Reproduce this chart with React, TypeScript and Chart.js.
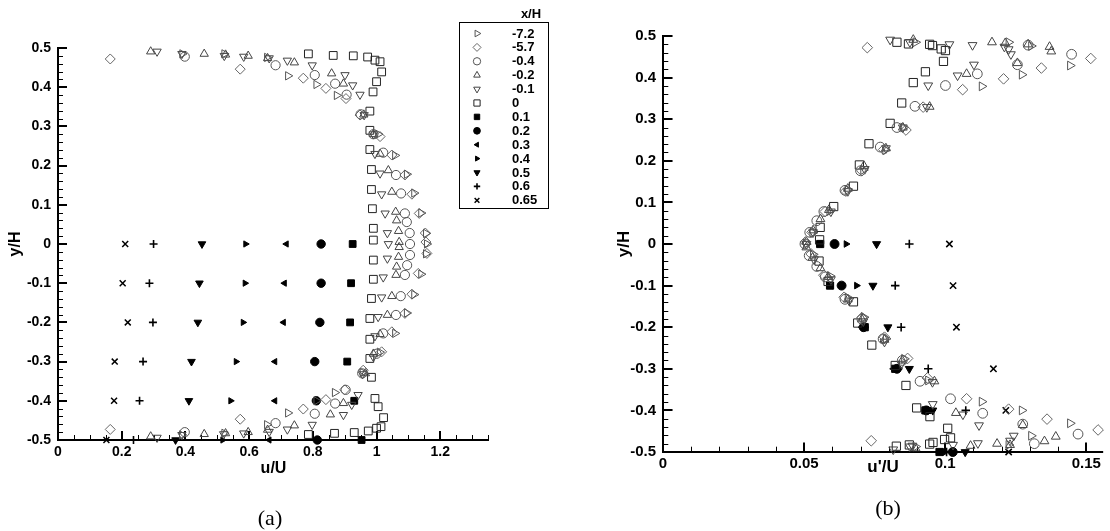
import React, { useEffect, useRef } from 'react';
import { Chart, registerables } from 'chart.js';
import { drawPoint } from 'chart.js/helpers';

Chart.register(...registerables);

// ---------------- tick labels ----------------
const Y_TICKS = [-0.5, -0.4, -0.3, -0.2, -0.1, 0, 0.1, 0.2, 0.3, 0.4, 0.5];
const Y_TICK_LABELS = ['-0.5', '-0.4', '-0.3', '-0.2', '-0.1', '0', '0.1', '0.2', '0.3', '0.4', '0.5'];
const XA_TICKS = [0, 0.2, 0.4, 0.6, 0.8, 1, 1.2];
const XA_TICK_LABELS = ['0', '0.2', '0.4', '0.6', '0.8', '1', '1.2'];
const XB_TICKS = [0, 0.05, 0.1, 0.15];
const XB_TICK_LABELS = ['0', '0.05', '0.1', '0.15'];

// ---------------- series labels (x/H) ----------------
const SERIES_LABELS = ['-7.2', '-5.7', '-0.4', '-0.2', '-0.1', '0', '0.1', '0.2', '0.3', '0.4', '0.5', '0.6', '0.65'];

// x/H = -7.2
const Y_M72 = [0.485, 0.485, 0.476, 0.429, 0.407, 0.379, 0.28, 0.226, 0.178, 0.13, 0.079, 0.027, 0, -0.025, -0.077, -0.129, -0.176, -0.228, -0.276, -0.328, -0.379, -0.4, -0.431, -0.461, -0.483, -0.487];
const U_M72 = [0.39, 0.522, 0.656, 0.722, 0.811, 0.875, 1.005, 1.058, 1.095, 1.118, 1.14, 1.155, 1.158, 1.155, 1.14, 1.118, 1.095, 1.058, 1.01, 0.956, 0.869, 0.811, 0.722, 0.656, 0.522, 0.389];
const UP_M72 = [0.0895, 0.1225, 0.1305, 0.1443, 0.1272, 0.113, 0.0852, 0.0788, 0.071, 0.0655, 0.059, 0.053, 0.0507, 0.0532, 0.0592, 0.0655, 0.0712, 0.079, 0.0855, 0.094, 0.113, 0.1272, 0.1443, 0.1305, 0.1225, 0.0895];

// x/H = -5.7
const Y_M57 = [0.472, 0.446, 0.423, 0.397, 0.371, 0.329, 0.274, 0.227, 0.176, 0.127, 0.078, 0.028, 0.005, -0.024, -0.075, -0.128, -0.177, -0.224, -0.275, -0.322, -0.372, -0.397, -0.421, -0.447, -0.473];
const U_M57 = [0.164, 0.572, 0.77, 0.841, 0.904, 0.948, 1.011, 1.048, 1.089, 1.111, 1.134, 1.153, 1.155, 1.158, 1.131, 1.111, 1.089, 1.048, 1.016, 0.958, 0.9, 0.841, 0.77, 0.572, 0.164];
const UP_M57 = [0.0724, 0.1516, 0.1341, 0.1207, 0.1062, 0.0922, 0.0861, 0.0782, 0.0705, 0.0648, 0.0575, 0.0528, 0.0505, 0.0525, 0.057, 0.0642, 0.0705, 0.0785, 0.0867, 0.0937, 0.1076, 0.1225, 0.1361, 0.1542, 0.0738];

// x/H = -0.4
const Y_M04 = [0.478, 0.456, 0.431, 0.409, 0.381, 0.331, 0.28, 0.233, 0.176, 0.129, 0.078, 0.056, 0.028, 0, -0.028, -0.054, -0.079, -0.133, -0.181, -0.228, -0.28, -0.33, -0.372, -0.407, -0.433, -0.457, -0.48];
const U_M04 = [0.398, 0.683, 0.806, 0.87, 0.906, 0.95, 0.99, 1.021, 1.061, 1.077, 1.089, 1.095, 1.104, 1.105, 1.105, 1.096, 1.089, 1.076, 1.061, 1.021, 1.0, 0.955, 0.903, 0.87, 0.806, 0.683, 0.398];
const UP_M04 = [0.1294, 0.1448, 0.1256, 0.1114, 0.1001, 0.0893, 0.0829, 0.077, 0.07, 0.0645, 0.057, 0.0545, 0.052, 0.0503, 0.0518, 0.0545, 0.0575, 0.0645, 0.0705, 0.078, 0.0848, 0.0911, 0.1019, 0.1133, 0.1275, 0.1471, 0.1316];

// x/H = -0.2
const Y_M02 = [0.491, 0.485, 0.483, 0.48, 0.474, 0.463, 0.435, 0.409, 0.33, 0.28, 0.23, 0.188, 0.133, 0.082, 0.06, 0.033, 0.005, -0.008, -0.033, -0.058, -0.079, -0.133, -0.181, -0.23, -0.28, -0.33, -0.406, -0.435, -0.463, -0.474, -0.48, -0.483, -0.485, -0.491];
const U_M02 = [0.291, 0.459, 0.526, 0.597, 0.658, 0.742, 0.859, 0.896, 0.96, 0.99, 1.011, 1.037, 1.048, 1.06, 1.063, 1.069, 1.071, 1.071, 1.069, 1.063, 1.061, 1.048, 1.034, 1.011, 0.99, 0.965, 0.896, 0.855, 0.742, 0.658, 0.597, 0.526, 0.459, 0.291];
const UP_M02 = [0.0887, 0.1166, 0.1213, 0.1294, 0.137, 0.1376, 0.1256, 0.1076, 0.0945, 0.085, 0.079, 0.0712, 0.0655, 0.0588, 0.0558, 0.0532, 0.0508, 0.0508, 0.053, 0.0558, 0.0585, 0.0655, 0.0705, 0.0785, 0.0848, 0.0962, 0.1038, 0.1275, 0.1392, 0.1352, 0.1184, 0.123, 0.109, 0.0895];

// x/H = -0.1
const Y_M01 = [0.491, 0.485, 0.48, 0.478, 0.474, 0.468, 0.456, 0.431, 0.405, 0.381, 0.329, 0.28, 0.23, 0.18, 0.127, 0.078, 0.028, 0, -0.037, -0.085, -0.136, -0.186, -0.235, -0.288, -0.332, -0.385, -0.41, -0.436, -0.461, -0.473, -0.479, -0.483, -0.485, -0.487, -0.494];
const U_M01 = [0.311, 0.389, 0.522, 0.583, 0.663, 0.72, 0.798, 0.901, 0.925, 0.948, 0.961, 0.99, 0.995, 1.011, 1.016, 1.027, 1.034, 1.037, 1.034, 1.021, 1.016, 1.005, 0.995, 0.99, 0.956, 0.942, 0.922, 0.896, 0.798, 0.72, 0.663, 0.583, 0.52, 0.389, 0.311];
const UP_M01 = [0.0805, 0.0875, 0.1015, 0.1097, 0.121, 0.1225, 0.1233, 0.1102, 0.1044, 0.094, 0.0935, 0.085, 0.079, 0.0715, 0.0655, 0.0595, 0.0532, 0.0508, 0.0535, 0.0595, 0.066, 0.071, 0.0785, 0.0845, 0.0955, 0.0956, 0.1063, 0.112, 0.1243, 0.123, 0.1116, 0.1028, 0.0884, 0.0875, 0.0816];

// x/H = 0
const Y_P00 = [0.485, 0.481, 0.48, 0.477, 0.469, 0.465, 0.439, 0.414, 0.388, 0.339, 0.29, 0.241, 0.19, 0.139, 0.09, 0.04, 0.01, -0.041, -0.09, -0.139, -0.19, -0.243, -0.292, -0.34, -0.394, -0.415, -0.443, -0.466, -0.47, -0.477, -0.481, -0.483, -0.486];
const U_P00 = [0.786, 0.864, 0.927, 0.972, 0.995, 1.011, 1.016, 1.0, 0.989, 0.979, 0.979, 0.979, 0.984, 0.984, 0.987, 0.99, 0.99, 0.99, 0.99, 0.984, 0.979, 0.979, 0.979, 0.984, 0.995, 1.005, 1.022, 1.014, 1.0, 0.974, 0.93, 0.868, 0.786];
const UP_P00 = [0.0829, 0.087, 0.0945, 0.0955, 0.0986, 0.1001, 0.0994, 0.093, 0.0887, 0.0846, 0.0805, 0.073, 0.0696, 0.0675, 0.0605, 0.0557, 0.0555, 0.0553, 0.0585, 0.0675, 0.069, 0.074, 0.0823, 0.0861, 0.0899, 0.0946, 0.1009, 0.1019, 0.0998, 0.0957, 0.0945, 0.0873, 0.0827];

// wake stations (x/H = 0.1 ... 0.65) share these y positions
const Y_WAKE = [0, -0.1, -0.2, -0.3, -0.4, -0.5];
const U_P01 = [0.925, 0.92, 0.917, 0.908, 0.93, 0.953];
const UP_P01 = [0.0557, 0.0592, 0.0715, 0.0823, 0.093, 0.098];
const U_P02 = [0.826, 0.826, 0.822, 0.806, 0.811, 0.814];
const UP_P02 = [0.0608, 0.0633, 0.0711, 0.0829, 0.0933, 0.1027];
const U_P03 = [0.717, 0.711, 0.708, 0.681, 0.681, 0.663];
const UP_P03 = [0.0555, 0.0595, 0.0705, 0.0817, 0.094, 0.0985];
const U_P04 = [0.589, 0.587, 0.581, 0.559, 0.542, 0.517];
const UP_P04 = [0.0649, 0.0686, 0.0715, 0.0835, 0.0953, 0.1];
const U_P05 = [0.452, 0.444, 0.439, 0.419, 0.411, 0.369];
const UP_P05 = [0.0757, 0.0744, 0.0797, 0.0873, 0.0956, 0.1071];
const U_P06 = [0.3, 0.287, 0.298, 0.267, 0.256, 0.237];
const UP_P06 = [0.0873, 0.0823, 0.0844, 0.094, 0.1073, 0.1005];
const U_P065 = [0.211, 0.203, 0.219, 0.178, 0.176, 0.152];
const UP_P065 = [0.1015, 0.1028, 0.104, 0.1171, 0.1215, 0.1225];

const SERIES_Y = [Y_M72, Y_M57, Y_M04, Y_M02, Y_M01, Y_P00, Y_WAKE, Y_WAKE, Y_WAKE, Y_WAKE, Y_WAKE, Y_WAKE, Y_WAKE];
const SERIES_U = [U_M72, U_M57, U_M04, U_M02, U_M01, U_P00, U_P01, U_P02, U_P03, U_P04, U_P05, U_P06, U_P065];
const SERIES_UP = [UP_M72, UP_M57, UP_M04, UP_M02, UP_M01, UP_P00, UP_P01, UP_P02, UP_P03, UP_P04, UP_P05, UP_P06, UP_P065];

// ---------------- marker styles ----------------
type Marker = { style: string; rot: number; r: number; fill: boolean; color: string; lw: number };
const MARKERS: Marker[] = [
  { style: 'triangle', rot: 90, r: 4.8, fill: false, color: '#555', lw: 1 },
  { style: 'rectRot', rot: 0, r: 5, fill: false, color: '#666', lw: 1 },
  { style: 'circle', rot: 0, r: 4.6, fill: false, color: '#555', lw: 1 },
  { style: 'triangle', rot: 0, r: 4.8, fill: false, color: '#444', lw: 1 },
  { style: 'triangle', rot: 180, r: 4.8, fill: false, color: '#444', lw: 1 },
  { style: 'rect', rot: 0, r: 5.5, fill: false, color: '#222', lw: 1 },
  { style: 'rect', rot: 0, r: 4.8, fill: true, color: '#000', lw: 1 },
  { style: 'circle', rot: 0, r: 4.2, fill: true, color: '#000', lw: 1 },
  { style: 'triangle', rot: 270, r: 3.6, fill: true, color: '#000', lw: 1 },
  { style: 'triangle', rot: 90, r: 3.6, fill: true, color: '#000', lw: 1 },
  { style: 'triangle', rot: 180, r: 4.4, fill: true, color: '#000', lw: 1 },
  { style: 'cross', rot: 0, r: 4, fill: false, color: '#000', lw: 1.6 },
  { style: 'crossRot', rot: 0, r: 4.2, fill: false, color: '#000', lw: 1.5 },
];

function minorTicks(min: number, max: number, step: number): number[] {
  const out: number[] = [];
  const n = Math.floor((max - min) / step + 1e-6);
  for (let i = 0; i <= n; i++) out.push(Math.round((min + i * step) * 1e6) / 1e6);
  return out;
}

const FONT = "'Liberation Sans', Arial, Helvetica, sans-serif";

const axesPlugin = {
  id: 'inwardAxes',
  beforeDatasetsDraw(chart: any, _args: any, opts: any) {
    const { ctx, chartArea } = chart;
    const { left, right, top, bottom } = chartArea;
    const xs = chart.scales.x;
    const ys = chart.scales.y;
    const s = opts.scale || 1;
    ctx.save();
    ctx.strokeStyle = '#000';
    ctx.lineCap = 'butt';
    // minor ticks
    ctx.lineWidth = 1;
    ctx.beginPath();
    for (const v of opts.xMinor) {
      const px = Math.round(xs.getPixelForValue(v)) + 0.5;
      ctx.moveTo(px, bottom);
      ctx.lineTo(px, bottom - 5 * s);
    }
    for (const v of opts.yMinor) {
      const py = Math.round(ys.getPixelForValue(v)) + 0.5;
      ctx.moveTo(left, py);
      ctx.lineTo(left + 5 * s, py);
    }
    ctx.stroke();
    // major ticks
    ctx.lineWidth = 2;
    ctx.beginPath();
    for (const v of opts.xMajor) {
      const px = Math.round(xs.getPixelForValue(v));
      ctx.moveTo(px, bottom);
      ctx.lineTo(px, bottom - 9 * s);
    }
    for (const v of opts.yMajor) {
      const py = Math.round(ys.getPixelForValue(v));
      ctx.moveTo(left, py);
      ctx.lineTo(left + 9 * s, py);
    }
    ctx.stroke();
    // axis lines
    ctx.lineWidth = 2;
    ctx.beginPath();
    ctx.moveTo(Math.round(left), Math.round(top) - 1);
    ctx.lineTo(Math.round(left), Math.round(bottom));
    ctx.lineTo(right, Math.round(bottom));
    ctx.stroke();
    ctx.restore();
  },
};

const legendPlugin = {
  id: 'boxLegend',
  afterDraw(chart: any, _args: any, opts: any) {
    if (!opts || !opts.show) return;
    const { ctx } = chart;
    ctx.save();
    ctx.strokeStyle = '#000';
    ctx.lineWidth = 1;
    ctx.strokeRect(459.5, 22.5, 89, 186);
    ctx.fillStyle = '#000';
    ctx.font = `bold 13px ${FONT}`;
    ctx.textBaseline = 'middle';
    ctx.textAlign = 'center';
    ctx.fillText('x/H', 531, 14);
    ctx.textAlign = 'left';
    SERIES_LABELS.forEach((lab, i) => {
      const y = 33.5 + i * 13.9;
      const m = MARKERS[i];
      ctx.save();
      ctx.strokeStyle = m.color;
      ctx.fillStyle = m.fill ? m.color : 'rgba(0,0,0,0)';
      ctx.lineWidth = m.lw;
      drawPoint(ctx, { pointStyle: m.style as any, rotation: m.rot, radius: m.r * 0.8, borderWidth: m.lw }, 477, y);
      ctx.restore();
      ctx.fillStyle = '#000';
      ctx.font = `bold 13px ${FONT}`;
      ctx.fillText(lab, 512, y + 0.5);
    });
    ctx.restore();
  },
};

function buildDatasets(xs: number[][], scale: number) {
  return SERIES_LABELS.map((label, i) => {
    const m = MARKERS[i];
    const ys = SERIES_Y[i];
    return {
      label,
      data: ys.map((y, k) => ({ x: xs[i][k], y })),
      pointStyle: m.style,
      pointRotation: m.rot,
      pointRadius: m.r * scale,
      pointBorderWidth: m.lw,
      pointBorderColor: m.color,
      pointBackgroundColor: m.fill ? m.color : 'rgba(0,0,0,0)',
      showLine: false,
      clip: false as any,
    };
  });
}

function makeConfig(p: {
  xs: number[][];
  xMin: number;
  xMax: number;
  xTicks: number[];
  xLabels: string[];
  xMinorStep: number;
  xTitle: string;
  pad: { left: number; top: number; right: number; bottom: number };
  yWidth: number;
  xHeight: number;
  yTitlePad: number;
  xTitlePad: number;
  xTickPad: number;
  tickSize: number;
  titleSize: number;
  scale: number;
  legend: boolean;
}): any {
  return {
    type: 'scatter',
    data: { datasets: buildDatasets(p.xs, p.scale) },
    options: {
      responsive: false,
      animation: false,
      events: [],
      layout: { padding: p.pad },
      plugins: {
        legend: { display: false },
        tooltip: { enabled: false },
        inwardAxes: {
          xMajor: p.xTicks,
          xMinor: minorTicks(p.xMin, p.xMax, p.xMinorStep),
          yMajor: Y_TICKS,
          yMinor: minorTicks(-0.5, 0.5, 0.02),
          scale: p.scale,
        },
        boxLegend: { show: p.legend },
      },
      scales: {
        x: {
          type: 'linear',
          position: 'bottom',
          min: p.xMin,
          max: p.xMax,
          border: { display: false },
          grid: { display: false, drawTicks: false },
          afterBuildTicks: (sc: any) => {
            sc.ticks = p.xTicks.map((v) => ({ value: v }));
          },
          afterFit: (sc: any) => {
            sc.height = p.xHeight;
          },
          ticks: {
            autoSkip: false,
            maxRotation: 0,
            padding: p.xTickPad,
            color: '#000',
            font: { family: FONT, size: p.tickSize, weight: 'bold' },
            callback: (_v: any, idx: number) => p.xLabels[idx],
          },
          title: {
            display: true,
            text: p.xTitle,
            color: '#000',
            font: { family: FONT, size: p.titleSize, weight: 'bold' },
            padding: { top: 0, bottom: p.xTitlePad },
          },
        },
        y: {
          type: 'linear',
          position: 'left',
          min: -0.5,
          max: 0.5,
          border: { display: false },
          grid: { display: false, drawTicks: false },
          afterBuildTicks: (sc: any) => {
            sc.ticks = Y_TICKS.map((v) => ({ value: v }));
          },
          afterFit: (sc: any) => {
            sc.width = p.yWidth;
          },
          ticks: {
            autoSkip: false,
            padding: 7,
            color: '#000',
            font: { family: FONT, size: p.tickSize, weight: 'bold' },
            callback: (_v: any, idx: number) => Y_TICK_LABELS[idx],
          },
          title: {
            display: true,
            text: 'y/H',
            color: '#000',
            font: { family: FONT, size: p.titleSize, weight: 'bold' },
            padding: { top: p.yTitlePad, bottom: 0 },
          },
        },
      },
    },
    plugins: [axesPlugin, legendPlugin],
  };
}

const captionStyle = (x: number, y: number): React.CSSProperties => ({
  position: 'absolute',
  left: x,
  top: y,
  transform: 'translate(-50%, -50%)',
  fontFamily: "'Liberation Serif', 'Times New Roman', serif",
  fontSize: 22,
  color: '#000',
  lineHeight: 1,
  whiteSpace: 'nowrap',
});

export default function App() {
  const refA = useRef<HTMLCanvasElement>(null);
  const refB = useRef<HTMLCanvasElement>(null);

  useEffect(() => {
    const a = new Chart(
      refA.current as HTMLCanvasElement,
      makeConfig({
        xs: SERIES_U,
        xMin: 0,
        xMax: 1.353,
        xTicks: XA_TICKS,
        xLabels: XA_TICK_LABELS,
        xMinorStep: 0.05,
        xTitle: 'u/U',
        pad: { left: 0, top: 48, right: 66, bottom: 0 },
        yWidth: 58,
        xHeight: 91,
        yTitlePad: 6,
        xTitlePad: 53,
        xTickPad: 4,
        tickSize: 14,
        titleSize: 16,
        scale: 1,
        legend: true,
      })
    );
    const b = new Chart(
      refB.current as HTMLCanvasElement,
      makeConfig({
        xs: SERIES_UP,
        xMin: 0,
        xMax: 0.156,
        xTicks: XB_TICKS,
        xLabels: XB_TICK_LABELS,
        xMinorStep: 0.01,
        xTitle: "u'/U",
        pad: { left: 0, top: 36, right: 1, bottom: 0 },
        yWidth: 108,
        xHeight: 79,
        yTitlePad: 59,
        xTitlePad: 53,
        xTickPad: 3,
        tickSize: 15,
        titleSize: 17,
        scale: 1.06,
        legend: false,
      })
    );
    return () => {
      a.destroy();
      b.destroy();
    };
  }, []);

  return (
    <div style={{ position: 'absolute', left: 0, top: 0, width: 1110, height: 531, background: '#fff', overflow: 'hidden' }}>
      <canvas ref={refA} width={555} height={531} style={{ position: 'absolute', left: 0, top: 0, width: 555, height: 531 }} />
      <canvas ref={refB} width={555} height={531} style={{ position: 'absolute', left: 555, top: 0, width: 555, height: 531 }} />
      <div style={captionStyle(270, 518)}>(a)</div>
      <div style={captionStyle(888, 508)}>(b)</div>
    </div>
  );
}
